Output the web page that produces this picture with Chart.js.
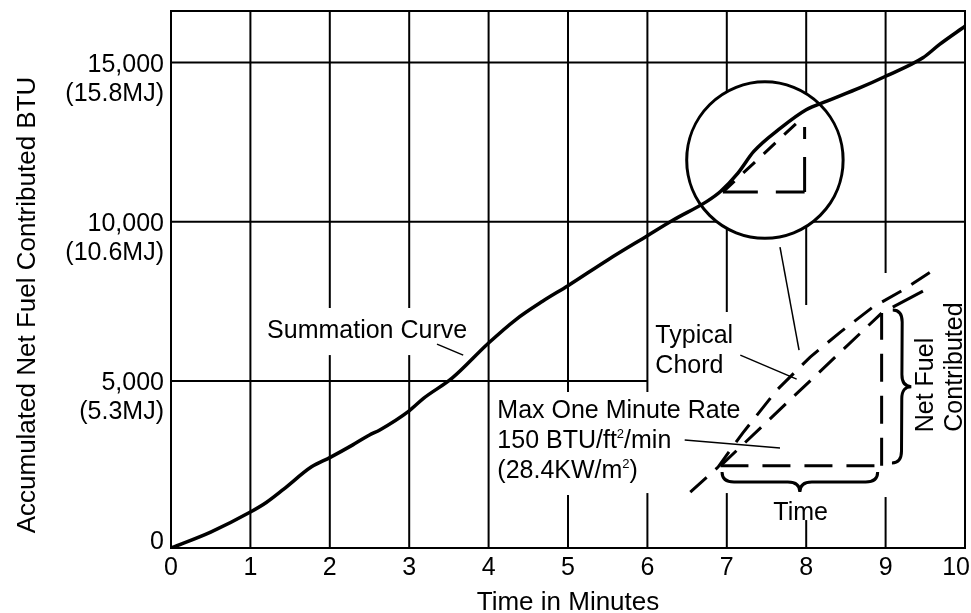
<!DOCTYPE html>
<html>
<head>
<meta charset="utf-8">
<script src="https://cdn.jsdelivr.net/npm/chart.js@4.4.0/dist/chart.umd.min.js"></script>
<style>
    html, body { margin: 0; padding: 0; background: #fff; }
    #contenedor { width: 971px; height: 613px; }
</style>
</head>
<body>
<div id="contenedor"><canvas id="graficaCombustible" width="971" height="613"></canvas></div>
<script>
const tiempo = [0, 0.5, 1.0, 1.2, 1.42, 1.77, 2.0, 2.29, 2.5, 2.63, 3.0, 3.18, 3.54, 4.0, 4.34, 4.68, 5.0, 5.5, 6.0, 6.33, 6.75, 6.92, 7.14, 7.34, 7.68, 8.0, 8.26, 8.68, 9.0, 9.47, 9.68, 10.0];
const btu = [-250, 250, 880, 1180, 1600, 2300, 2590, 2990, 3300, 3460, 4060, 4450, 5085, 6190, 6920, 7500, 7990, 8800, 9560, 10060, 10640, 10950, 11530, 12210, 12950, 13520, 13790, 14210, 14570, 15150, 15570, 16140];

const xTicks = [0, 1, 2, 3, 4, 5, 6, 7, 8, 9, 10];
const yTicks = [0, 5000, 10000, 15000];
const yTickLabels = [['0'], ['5,000', '(5.3MJ)'], ['10,000', '(10.6MJ)'], ['15,000', '(15.8MJ)']];

const tituloX = 'Time in Minutes';
const tituloY = 'Accumulated Net Fuel Contributed BTU';

const FUENTE = '"Liberation Sans", Arial, sans-serif';

// huecos de la cuadricula donde hay texto (en BTU)
const huecosVerticales = {
    2: [[5811, 7287]],
    3: [[5811, 7287]],
    5: [[1413, 4649]],
    6: [[1476, 4649]],
    7: [[1476, 7161]],
    8: [[628, 7381]],
    9: [[1351, 8386]]
};
const tramosHorizontales = { 5000: [0, 6], 10000: [0, 10], 15000: [0, 10] };

const px = (chart, x, y) => [chart.scales.x.getPixelForValue(x), chart.scales.y.getPixelForValue(y)];

const linea = (ctx, a, b) => {
    ctx.beginPath();
    ctx.moveTo(a[0], a[1]);
    ctx.lineTo(b[0], b[1]);
    ctx.stroke();
};

const polilinea = (ctx, pts) => {
    ctx.beginPath();
    pts.forEach((p, i) => i ? ctx.lineTo(p[0], p[1]) : ctx.moveTo(p[0], p[1]));
    ctx.stroke();
};

// llave: de p0 a p1, abre hacia la normal (-u.y, u.x)
const llave = (ctx, p0, p1, h, r) => {
    const dx = p1[0] - p0[0], dy = p1[1] - p0[1];
    const L = Math.hypot(dx, dy);
    const u = [dx / L, dy / L];
    const n = [-u[1], u[0]];
    const P = (s, t) => [p0[0] + u[0] * s + n[0] * t, p0[1] + u[1] * s + n[1] * t];
    const m = L / 2;
    ctx.beginPath();
    let q = P(0, 0); ctx.moveTo(q[0], q[1]);
    let c = P(0, h); q = P(r, h); ctx.quadraticCurveTo(c[0], c[1], q[0], q[1]);
    q = P(m - r, h); ctx.lineTo(q[0], q[1]);
    c = P(m, h); q = P(m, 2 * h); ctx.quadraticCurveTo(c[0], c[1], q[0], q[1]);
    c = P(m, h); q = P(m + r, h); ctx.quadraticCurveTo(c[0], c[1], q[0], q[1]);
    q = P(L - r, h); ctx.lineTo(q[0], q[1]);
    c = P(L, h); q = P(L, 0); ctx.quadraticCurveTo(c[0], c[1], q[0], q[1]);
    ctx.stroke();
};

const pluginFondo = {
    id: 'fondo',
    beforeDraw(chart) {
        const ctx = chart.ctx;
        ctx.save();
        ctx.fillStyle = '#fff';
        ctx.fillRect(0, 0, chart.width, chart.height);
        ctx.restore();
    }
};

const pluginCuadricula = {
    id: 'cuadricula',
    beforeDatasetsDraw(chart) {
        const ctx = chart.ctx;
        const ys = chart.scales.y;
        ctx.save();
        ctx.strokeStyle = '#000';
        ctx.lineWidth = 2;

        // verticales
        for (let v = 1; v <= 9; v++) {
            let tramos = [[ys.min, ys.max]];
            (huecosVerticales[v] || []).forEach(([a, b]) => {
                const nuevos = [];
                tramos.forEach(([s, e]) => {
                    if (b <= s || a >= e) { nuevos.push([s, e]); return; }
                    if (a > s) nuevos.push([s, a]);
                    if (b < e) nuevos.push([b, e]);
                });
                tramos = nuevos;
            });
            tramos.forEach(([s, e]) => linea(ctx, px(chart, v, s), px(chart, v, e)));
        }
        // horizontales
        Object.keys(tramosHorizontales).forEach(k => {
            const [a, b] = tramosHorizontales[k];
            linea(ctx, px(chart, a, +k), px(chart, b, +k));
        });

        // circulo de ampliacion
        const c = px(chart, 7.48, 11937);
        const r = chart.scales.x.getPixelForValue(7.48 + 0.985) - c[0];
        ctx.beginPath();
        ctx.arc(c[0], c[1], r, 0, Math.PI * 2);
        ctx.fillStyle = '#fff';
        ctx.fill();
        ctx.lineWidth = 3;
        ctx.stroke();
        ctx.restore();
    }
};

const pluginAnotaciones = {
    id: 'anotaciones',
    afterDatasetsDraw(chart) {
        const ctx = chart.ctx;
        const area = chart.chartArea;
        const P = (x, y) => px(chart, x, y);
        ctx.save();
        ctx.strokeStyle = '#000';
        ctx.fillStyle = '#000';

        // marco
        ctx.lineWidth = 2;
        ctx.strokeRect(area.left, area.top, area.right - area.left, area.bottom - area.top);

        // etiquetas del eje x
        ctx.font = `25px ${FUENTE}`;
        ctx.textAlign = 'center';
        ctx.textBaseline = 'alphabetic';
        xTicks.forEach(t => {
            let x = chart.scales.x.getPixelForValue(t);
            const w = ctx.measureText(String(t)).width;
            if (x + w / 2 > chart.width - 1) x = chart.width - 1 - w / 2;
            ctx.fillText(String(t), x, area.bottom + 27);
        });

        // etiquetas del eje y
        ctx.textAlign = 'right';
        yTicks.forEach((t, i) => {
            const y = chart.scales.y.getPixelForValue(t);
            yTickLabels[i].forEach((s, j) => ctx.fillText(s, area.left - 7, y + 9 + j * 29));
        });

        // titulos
        ctx.font = `26px ${FUENTE}`;
        ctx.textAlign = 'center';
        ctx.fillText(tituloX, (area.left + area.right) / 2, 610);
        ctx.save();
        ctx.translate(35, 305);
        ctx.rotate(-Math.PI / 2);
        ctx.fillText(tituloY, 0, 0);
        ctx.restore();

        // triangulo dentro del circulo
        ctx.lineWidth = 3;
        ctx.setLineDash([16, 12]);
        linea(ctx, P(6.95, 10931), P(7.96, 13287));
        ctx.setLineDash([35, 18]);
        linea(ctx, P(6.95, 10931), P(7.98, 10931));
        linea(ctx, P(7.98, 10931), P(7.98, 12973));

        // ampliacion: curva, cuerda y triangulo
        ctx.setLineDash([22, 12]);
        polilinea(ctx, [P(6.54, 1508), P(6.89, 2293), P(7.2, 3361), P(7.63, 4712), P(8.05, 5748), P(8.43, 6533), P(8.84, 7319), P(9.22, 7853), P(9.6, 8481)]);
        linea(ctx, P(6.92, 2330), P(8.95, 7130));
        ctx.setLineDash([28, 14]);
        linea(ctx, P(6.92, 2330), P(8.95, 2330));
        linea(ctx, P(8.95, 2330), P(8.95, 7130));
        ctx.setLineDash([]);
        linea(ctx, P(9.09, 7319), P(9.47, 7821));

        // llaves
        llave(ctx, P(6.94, 2136), P(8.90, 2136), 10, 12);
        llave(ctx, P(9.08, 2419), P(9.09, 7225), 9.5, 12);

        // lineas guia
        ctx.lineWidth = 1.5;
        linea(ctx, P(3.35, 6156), P(3.68, 5811));
        linea(ctx, P(7.17, 5811), P(7.88, 5057));
        linea(ctx, P(7.67, 9203), P(7.91, 5968));
        linea(ctx, P(6.47, 3141), P(7.67, 2890));

        // textos
        ctx.font = `25px ${FUENTE}`;
        ctx.textAlign = 'left';
        let p = P(1.21, 6345); ctx.fillText('Summation Curve', p[0], p[1]);
        p = P(6.1, 6188); ctx.fillText('Typical', p[0], p[1]);
        p = P(6.1, 5245); ctx.fillText('Chord', p[0], p[1]);
        p = P(4.11, 3832); ctx.fillText('Max One Minute Rate', p[0], p[1]);

        // lineas con superindice
        const conSuper = (partes, x, y) => {
            let cx = x;
            partes.forEach(([s, sup]) => {
                ctx.font = sup ? `13px ${FUENTE}` : `25px ${FUENTE}`;
                ctx.fillText(s, cx, sup ? y - 10 : y);
                cx += ctx.measureText(s).width;
            });
        };
        p = P(4.11, 2890); conSuper([['150 BTU/ft', false], ['2', true], ['/min', false]], p[0], p[1]);
        p = P(4.11, 1947); conSuper([['(28.4KW/m', false], ['2', true], [')', false]], p[0], p[1]);

        ctx.font = `25px ${FUENTE}`;
        ctx.textAlign = 'center';
        p = P(7.93, 628); ctx.fillText('Time', p[0], p[1]);

        [['Net Fuel', 9.6, 4869], ['Contributed', 9.96, 5434]].forEach(([s, x, y]) => {
            const q = P(x, y);
            ctx.save();
            ctx.translate(q[0], q[1]);
            ctx.rotate(-Math.PI / 2);
            ctx.fillText(s, 0, 0);
            ctx.restore();
        });

        ctx.restore();
    }
};

const canvas = document.getElementById('graficaCombustible');
const context = canvas.getContext('2d');

const graficaCombustible = new Chart(context, {
    type: 'line',
    data: {
        datasets: [
            {
                label: 'Summation Curve',
                data: tiempo.map((t, i) => ({ x: t, y: btu[i] })),
                borderColor: '#000',
                borderWidth: 3.5,
                pointRadius: 0,
                fill: false,
                cubicInterpolationMode: 'monotone'
            }
        ]
    },
    options: {
        responsive: false,
        animation: false,
        devicePixelRatio: 1,
        layout: {
            padding: { left: 171, top: 11, right: 6, bottom: 65 }
        },
        scales: {
            x: { type: 'linear', min: 0, max: 10, display: false },
            y: { type: 'linear', min: -250, max: 16620, display: false }
        },
        plugins: {
            legend: { display: false },
            tooltip: { enabled: false }
        }
    },
    plugins: [pluginFondo, pluginCuadricula, pluginAnotaciones]
});
</script>
</body>
</html>
